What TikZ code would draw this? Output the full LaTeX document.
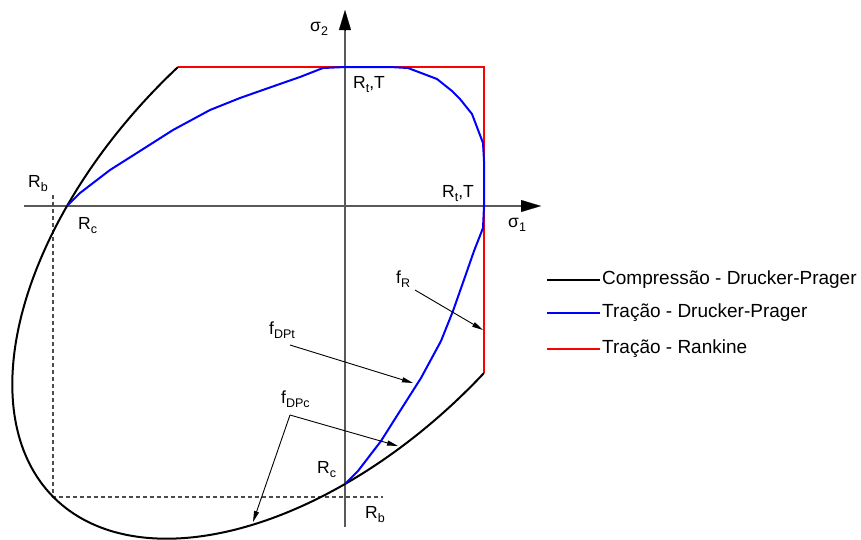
\documentclass[tikz,border=0pt]{standalone}
\usepackage{fontspec}
\setmainfont{Liberation Sans}
\usetikzlibrary{arrows.meta}
\newcommand\sbx[1]{\raisebox{-4.5pt}{\fontsize{12.5}{13}\selectfont #1}}
\begin{document}
\begin{tikzpicture}[x=1pt,y=1pt,
  font=\fontsize{17.5}{20}\selectfont,
  axis/.style={draw=black!65,line width=1.3pt},
  axtip/.style={-{Triangle[length=20pt,width=12pt]}},
  guide/.style={draw=black!70,line width=1.2pt,dash pattern=on 4pt off 3pt},
  comp/.style={draw=black,line width=2pt},
  trac/.style={draw=blue,line width=2pt,line join=round},
  rank/.style={draw=red,line width=2pt},
  lbl/.style={inner sep=0pt,anchor=base west},
  legtxt/.style={inner sep=0pt,anchor=west,font=\fontsize{19}{22}\selectfont},
  ptr/.style={draw=black,line width=0.9pt,-{Triangle[length=11pt,width=5pt]}}]
\useasboundingbox (-345,-333) rectangle (516,206);
% axes
\coordinate (xs) at (-321,0);
\coordinate (xe) at (196,0);
\coordinate (ys) at (0,-321);
\coordinate (ye) at (0,196);
\draw[axis] (xs) -- (177,0);
\draw[axis] (ys) -- (0,177);
\draw[axtip,line width=0.1pt] (176,0) -- (xe);
\draw[axtip,line width=0.1pt] (0,176) -- (ye);
% dashed guides
\coordinate (g1) at (-292,11);
\coordinate (g2) at (-292,-291);
\coordinate (g3) at (38,-291);
\draw[guide] (g1) -- (g2) -- (g3);
% Rankine
\coordinate (r1) at (-167,139);
\coordinate (r2) at (139,139);
\coordinate (r3) at (139,-167);
\draw[rank] (r1) -- (r2) -- (r3);
% DP compression ellipse
\draw[comp] plot[domain=86.9:273.1,samples=160,smooth]
  ({(-40+372*cos(\x)-216.7*sin(\x))/1.41421},{(-40+372*cos(\x)+216.7*sin(\x))/1.41421});
% DP tension
\draw[trac] (-278,0) -- (-265,13) -- (-235,36) -- (-205,55) -- (-172,76) -- (-135,96)
  -- (-105,108) -- (-68,121) -- (-45,129) -- (-22,138) -- (0,139) -- (45,139)
  -- (63,138) -- (92,127) -- (107,115) -- (115,107) -- (127,92) -- (138,63)
  -- (139,45) -- (139,0) -- (138,-22) -- (129,-45) -- (121,-68) -- (108,-105)
  -- (96,-135) -- (76,-172) -- (55,-205) -- (36,-235) -- (13,-265) -- (0,-278);
% labels
\node[lbl] (s2) at (-35,175) {σ\sbx{2}};
\node[lbl] (s1) at (163,-21) {σ\sbx{1}};
\node[lbl] (rt1) at (8,118) {R\sbx{t},T};
\node[lbl] (rt2) at (97,9) {R\sbx{t},T};
\node[lbl] (rb1) at (-317,19) {R\sbx{b}};
\node[lbl] (rc1) at (-267,-23) {R\sbx{c}};
\node[lbl] (rc2) at (-28,-267) {R\sbx{c}};
\node[lbl] (rb2) at (20,-312) {R\sbx{b}};
\node[lbl] (fr) at (51,-77) {f\sbx{R}};
\node[lbl] (fdpt) at (-76,-128) {f\sbx{DPt}};
\node[lbl] (fdpc) at (-64,-197) {f\sbx{DPc}};
% pointers
\coordinate (frs) at (70,-84);
\coordinate (fre) at (138,-124);
\draw[ptr] (frs) -- (fre);
\coordinate (fts) at (-55,-139);
\coordinate (fte) at (68,-177);
\draw[ptr] (fts) -- (fte);
\coordinate (fcs) at (-55,-209);
\coordinate (fce1) at (53,-240);
\coordinate (fce2) at (-92,-316);
\draw[ptr] (fcs) -- (fce1);
\draw[ptr] (fcs) -- (fce2);
% legend
\coordinate (l1a) at (202,-74); \coordinate (l1b) at (255,-74);
\coordinate (l2a) at (202,-107); \coordinate (l2b) at (255,-107);
\coordinate (l3a) at (202,-143); \coordinate (l3b) at (255,-143);
\draw[comp] (l1a) -- (l1b);
\draw[trac] (l2a) -- (l2b);
\draw[rank] (l3a) -- (l3b);
\node[legtxt] (t1) at (257,-74) {Compressão - Drucker-Prager};
\node[legtxt] (t2) at (257,-107) {Tração - Drucker-Prager};
\node[legtxt] (t3) at (257,-143) {Tração - Rankine};
\end{tikzpicture}
\end{document}
